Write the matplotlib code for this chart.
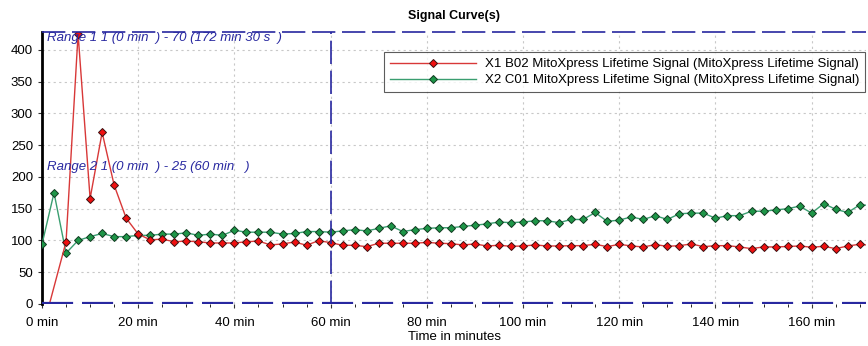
import numpy as np
import matplotlib
matplotlib.use("Agg")
import matplotlib.pyplot as plt
from matplotlib.ticker import MultipleLocator

plt.rcParams['font.family'] = ['Liberation Sans', 'DejaVu Sans']

# ---- data ----
times = [i * 2.5 for i in range(70)]  # 0 .. 172.5 min

green_values = [94, 175, 80, 100, 106, 111, 106, 106, 108, 108,
                110, 110, 112, 108, 110, 108, 116, 113, 113, 113,
                110, 111, 114, 114, 113, 115, 117, 115, 119, 123,
                114, 117, 119, 120, 120, 122, 124, 126, 129, 128,
                129, 131, 131, 128, 133, 133, 144, 130, 132, 137,
                133, 139, 133, 142, 143, 143, 135, 139, 139, 146,
                146, 148, 150, 154, 143, 158, 149, 144, 156, 155]

red_values = [-44, np.nan, 98, 425, 166, 270, 187, 135, 110, 101,
              102, 98, 99, 98, 96, 96, 96, 98, 99, 93,
              94.5, 97.6, 92.4, 99.7, 96.5, 92.4, 92.4, 90.2, 95.6, 95.6,
              95.6, 95.6, 97, 95.6, 95, 92.9, 94.5, 91.3, 92.4, 90.8,
              91.3, 92.9, 91.3, 91.3, 91.8, 91.8, 94, 90.2, 94, 91.3,
              89.8, 93.4, 90.8, 91.8, 94.5, 90.2, 91.8, 91.8, 89.8, 87.1,
              89.8, 89.8, 90.5, 91.3, 89.3, 90.8, 87.1, 91.3, 94, 92]

series_labels = ["X1 B02 MitoXpress Lifetime Signal (MitoXpress Lifetime Signal)",
                 "X2 C01 MitoXpress Lifetime Signal (MitoXpress Lifetime Signal)"]

x_ticks = [0, 20, 40, 60, 80, 100, 120, 140, 160]
x_tick_labels = ["0 min", "20 min", "40 min", "60 min", "80 min",
                 "100 min", "120 min", "140 min", "160 min"]
y_ticks = [0, 50, 100, 150, 200, 250, 300, 350, 400]

range1_text = "Range 1 1 (0 min  ) - 70 (172 min 30 s  )"
range2_text = "Range 2 1 (0 min  ) - 25 (60 min   )"
range2_end = 60
title = "Signal Curve(s)"
xlabel = "Time in minutes"

# ---- figure ----
fig = plt.figure(figsize=(8.68, 3.46), dpi=100)
ax = fig.add_axes([42 / 868, 1 - 304 / 346, 824 / 868, 272 / 346])

xmax = 171.3
ymax = 428
ax.set_xlim(0, xmax)
ax.set_ylim(0, ymax)

t = np.array(times)
r = np.array(red_values, dtype=float)
g = np.array(green_values, dtype=float)
m = ~np.isnan(r)

ax.plot(t[m], r[m], color='#d83838', lw=1.0, marker='D', markersize=4.0,
        markerfacecolor='#f01010', markeredgecolor='#3a1010', markeredgewidth=0.7,
        label=series_labels[0], zorder=4)
ax.plot(t, g, color='#3a9e70', lw=1.0, marker='D', markersize=4.0,
        markerfacecolor='#1e9648', markeredgecolor='#103a20', markeredgewidth=0.7,
        label=series_labels[1], zorder=3)

# range markers
dash_col = '#2828a0'
ax.axhline(ymax - 0.5, color=dash_col, lw=1.2, dashes=(14, 4), zorder=5, clip_on=False)
ax.axhline(0.8, color=dash_col, lw=1.6, dashes=(14, 4), zorder=5)
ax.axvline(range2_end, color=dash_col, lw=1.2, dashes=(14, 4), zorder=5)

ax.text(1.0, 418, range1_text, color='#2828a0', style='italic', fontsize=9.5,
        va='center', ha='left', zorder=6)
ax.text(1.0, 216, range2_text, color='#2828a0', style='italic', fontsize=9.5,
        va='center', ha='left', zorder=6)

# axes styling
for s in ['top', 'right', 'bottom']:
    ax.spines[s].set_visible(False)
ax.spines['left'].set_linewidth(2)
ax.spines['left'].set_color('black')

ax.set_xticks(x_ticks)
ax.set_xticklabels(x_tick_labels)
ax.set_yticks(y_ticks)
ax.xaxis.set_minor_locator(MultipleLocator(5))
ax.tick_params(axis='both', labelsize=9.5, length=3, width=0.8, color='#333333')
ax.tick_params(axis='x', which='minor', length=2, width=0.6)
ax.tick_params(axis='x', pad=6)

ax.grid(True, which='major', color='#c8c8c8', linestyle=(0, (2, 3)), lw=0.8)
ax.set_axisbelow(True)

ax.set_title(title, fontsize=9, fontweight='bold', pad=9)
ax.set_xlabel(xlabel, fontsize=9.5, labelpad=2)

leg = ax.legend(loc='upper right', bbox_to_anchor=(0.999, 0.926), borderaxespad=0,
                fontsize=9.5, frameon=True, fancybox=False, shadow=False,
                handlelength=6.5, handletextpad=0.7, borderpad=0.45,
                labelspacing=0.3)
leg.get_frame().set_edgecolor('#333333')
leg.get_frame().set_linewidth(0.8)

fig.savefig('out.png', dpi=100)
